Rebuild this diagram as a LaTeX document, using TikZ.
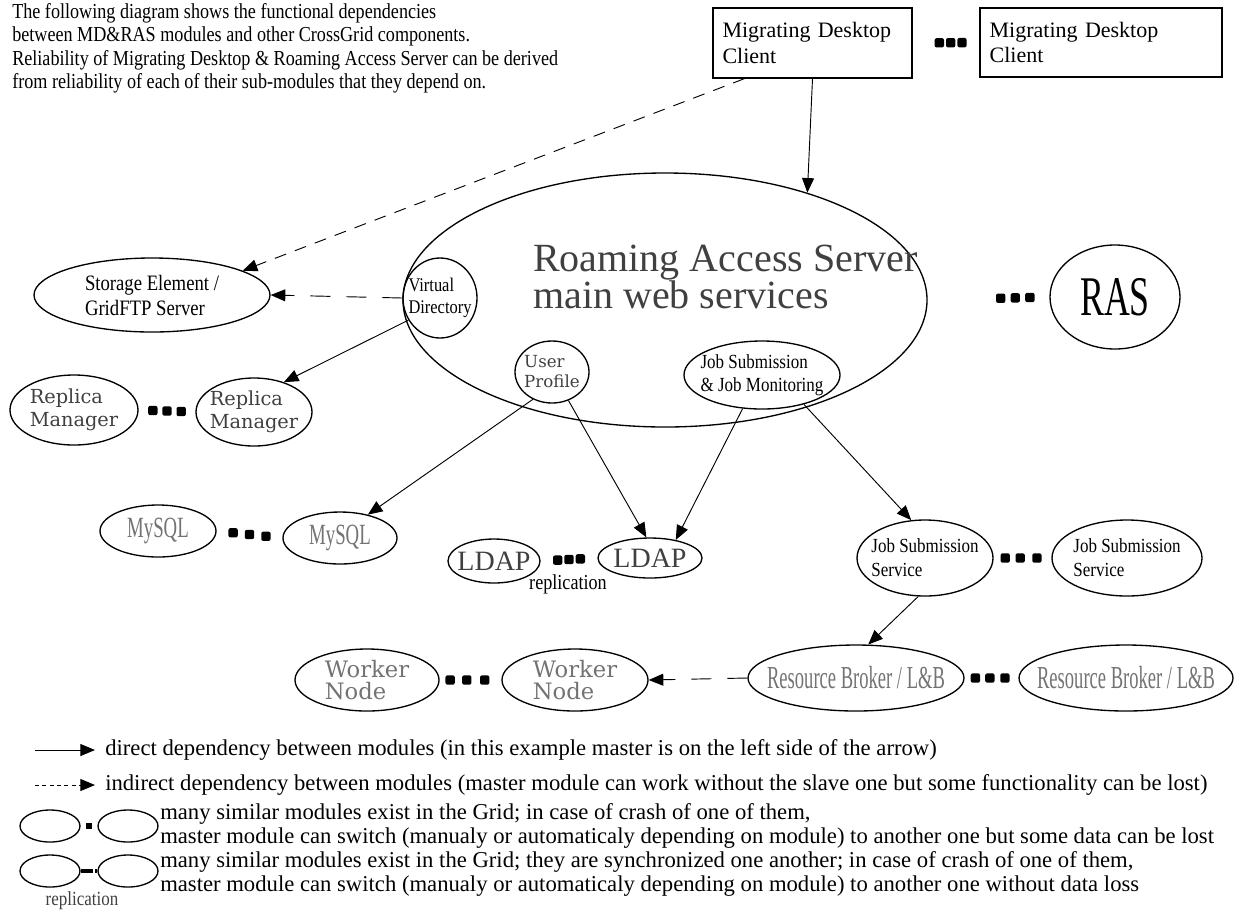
\documentclass[tikz,border=0pt]{standalone}
\usepackage{fontspec}
\setmainfont{Liberation Serif}
\newfontfamily\condfont{Liberation Serif}[FakeStretch=0.85]
\newfontfamily\narrowfont{Liberation Serif}[FakeStretch=0.64]
\newfontfamily\vnarrowfont{Liberation Serif}[FakeStretch=0.58]
\newfontfamily\wideserif{DejaVu Serif}
\usepackage{tikz}
\usetikzlibrary{arrows.meta,shapes.geometric}
\definecolor{softgrey}{gray}{0.45}
\definecolor{darkgrey}{gray}{0.25}

\begin{document}
\begin{tikzpicture}[x=0.75pt,y=0.75pt,yscale=-1,xscale=1,
  module/.style={draw, ellipse, line width=1pt, inner sep=0pt},
  lbl/.style={align=left, inner sep=0pt},
  box/.style={draw, rectangle, line width=1pt, inner xsep=7pt, align=left},
  dep/.style={line width=0.7pt, -{Triangle[length=11pt,width=9pt]}},
  indep/.style={dep, dash pattern=on 9pt off 7pt},
  dotmark/.style={fill, rectangle, rounded corners=1.5pt, inner sep=0pt, minimum size=7pt},
  legendfont/.style={font=\fontsize{17}{18}\selectfont}
]
\useasboundingbox (0,0) rectangle (1237,915);

% Text Node
\node[anchor=north west, lbl, font=\condfont\fontsize{16}{17.6}\selectfont] (intro) at (12,3) {The following diagram shows the functional dependencies\\between MD\&RAS modules and other CrossGrid components.\\Reliability of Migrating Desktop \& Roaming Access Server can be derived\\from reliability of each of their sub-modules that they depend on.};

%Shape: Rectangle
\node[box, minimum width=149.25pt, minimum height=52.5pt, text width=135pt, font=\fontsize{16.5}{19}\selectfont] (mdc1) at (812.5,43) {Migrating Desktop\\Client};
\node[box, minimum width=181.5pt, minimum height=51.75pt, text width=167pt, font=\fontsize{16.5}{19}\selectfont] (mdc2) at (1101,42.5) {Migrating Desktop\\Client};

%Shape: Ellipse
\node[module, minimum width=393pt, minimum height=190.5pt] (rasweb) at (665,300) {};
\node[anchor=west, lbl, font=\fontsize{30}{28}\selectfont, text=darkgrey] (rastitle) at (533,277) {Roaming Access Server\\main web services};
\node[module, minimum width=97.5pt, minimum height=78pt, label={[lbl,font=\narrowfont\fontsize{42}{42}\selectfont]center:RAS}] (rasalt) at (1115,297) {};
\node[module, minimum width=55.5pt, minimum height=60pt, label={[lbl,font=\condfont\fontsize{14.5}{16.5}\selectfont]center:Virtual\\Directory}] (vdir) at (440,298) {};
\node[module, minimum width=177pt, minimum height=55.5pt, label={[lbl,font=\condfont\fontsize{16.5}{18.75}\selectfont]center:Storage Element /\\GridFTP Server}] (storage) at (152,295) {};
\node[module, minimum width=96pt, minimum height=52.5pt, label={[lbl,font=\wideserif\fontsize{14.5}{17}\selectfont,text=darkgrey]center:Replica\\Manager}] (replica1) at (74,410) {};
\node[module, minimum width=87pt, minimum height=51pt, label={[lbl,font=\wideserif\fontsize{14.5}{17}\selectfont,text=darkgrey]center:Replica\\Manager}] (replica2) at (254,412) {};
\node[module, minimum width=55.5pt, minimum height=46.5pt, label={[lbl,font=\wideserif\fontsize{12.5}{15}\selectfont,text=darkgrey]center:User\\Profile}] (profile) at (552,372) {};
\node[module, minimum width=117pt, minimum height=51pt, label={[lbl,font=\condfont\fontsize{15}{17}\selectfont]center:Job Submission\\\& Job Monitoring}] (jobmon) at (762,375) {};
\node[module, minimum width=87pt, minimum height=39pt, label={[lbl,font=\narrowfont\fontsize{22}{22}\selectfont,text=softgrey]center:MySQL}] (mysql1) at (158,531) {};
\node[module, minimum width=85.5pt, minimum height=39pt, label={[lbl,font=\narrowfont\fontsize{22}{22}\selectfont,text=softgrey]center:MySQL}] (mysql2) at (340,538) {};
\node[module, minimum width=69pt, minimum height=33pt, label={[lbl,font=\fontsize{21}{21}\selectfont,text=darkgrey]center:LDAP}] (ldap1) at (494,561) {};
\node[module, minimum width=78pt, minimum height=30pt, label={[lbl,font=\fontsize{21}{21}\selectfont,text=darkgrey]center:LDAP}] (ldap2) at (650,558) {};
\node[module, minimum width=102pt, minimum height=57pt, label={[lbl,font=\condfont\fontsize{15}{18}\selectfont]center:Job Submission\\Service}] (jobsub1) at (925,558) {};
\node[module, minimum width=112.5pt, minimum height=57pt, label={[lbl,font=\condfont\fontsize{15}{18}\selectfont]center:Job Submission\\Service}] (jobsub2) at (1127,558) {};
\node[module, minimum width=162pt, minimum height=49.5pt, label={[lbl,font=\vnarrowfont\fontsize{24}{24}\selectfont,text=softgrey]center:Resource Broker / L\&B}] (broker1) at (856,678) {};
\node[module, minimum width=160.5pt, minimum height=49.5pt, label={[lbl,font=\vnarrowfont\fontsize{24}{24}\selectfont,text=softgrey]center:Resource Broker / L\&B}] (broker2) at (1126,678) {};
\node[module, minimum width=108pt, minimum height=46.5pt, label={[lbl,font=\wideserif\fontsize{17}{16.5}\selectfont,text=softgrey]center:Worker\\Node}] (worker1) at (367,680) {};
\node[module, minimum width=109.5pt, minimum height=46.5pt, label={[lbl,font=\wideserif\fontsize{17}{16.5}\selectfont,text=softgrey]center:Worker\\Node}] (worker2) at (575,680) {};
% Text Node
\node[lbl, font=\condfont\fontsize{16}{16}\selectfont] (ldaprep) at (568,584) {replication};

% dependencies
\draw[dep] (mdc1.south) -- (rasweb.37);
\draw[indep] ([xshift=24pt]mdc1.south west) -- (storage.15);
\draw[dep, dash pattern=on 15pt off 12pt] (vdir.west) -- (storage.east);
\draw[dep] (vdir.215) -- (replica2.45);
\draw[dep] (profile.235) -- (mysql2.40);
\draw[dep] (profile.-60) -- (ldap2.100);
\draw[dep] (jobmon.240) -- (ldap2.35);
\draw[dep] (jobmon.-35) -- (jobsub1.110);
\draw[dep] (jobsub1.-100) -- (broker1.70);
\draw[dep, dash pattern=on 15pt off 12pt] (broker1.west) -- (worker2.east);

% similar modules
\foreach \a/\b/\p/\q/\r in {mdc1/mdc2/0.4/0.57/0.74, rasweb/rasalt/0.6/0.72/0.84, replica1/replica2/0.25/0.5/0.75, mysql1/mysql2/0.25/0.5/0.75, ldap1/ldap2/0.3/0.5/0.7, jobsub1/jobsub2/0.2/0.46/0.75, broker1/broker2/0.2/0.47/0.75, worker1/worker2/0.17/0.44/0.73}
  \foreach \s [count=\i] in {\p,\q,\r}
    \path (\a.east) -- (\b.west) node[dotmark, pos=\s] (\a-dot\i) {};

% legend
\coordinate (dira) at (35,750);
\coordinate (dirb) at (95,750);
\draw[dep] (dira) -- (dirb);
\node[anchor=west, lbl, legendfont] (dirtext) at (105,750) {direct dependency between modules (in this example master is on the left side of the arrow)};
\coordinate (indira) at (35,785);
\coordinate (indirb) at (95,785);
\draw[dep, dash pattern=on 3pt off 2.5pt] (indira) -- (indirb);
\node[anchor=west, lbl, legendfont] (indirtext) at (105,785) {indirect dependency between modules (master module can work without the slave one but some functionality can be lost)};
\node[module, minimum width=45pt, minimum height=24pt] (lga) at (50,826) {};
\node[module, minimum width=45pt, minimum height=24pt] (lgb) at (128,826) {};
\path (lga.east) -- (lgb.west) node[midway, fill, inner sep=0pt, minimum size=5pt] (lgdot) {};
\node[anchor=west, lbl, legendfont] (simtext) at (160,826) {many similar modules exist in the Grid; in case of crash of one of them,\\master module can switch (manualy or automaticaly depending on module) to another one but some data can be lost};
\node[module, minimum width=45pt, minimum height=24pt] (lgc) at (50,871) {};
\node[module, minimum width=45pt, minimum height=24pt] (lgd) at (128,871) {};
\draw[line width=2.5pt, dash pattern=on 9pt off 2pt on 5pt off 10pt] (lgc.east) -- (lgd.west);
\node[lbl, font=\condfont\fontsize{15}{15}\selectfont, text=darkgrey] (lgrep) at (82,901) {replication};
\node[anchor=west, lbl, legendfont] (synctext) at (160,874) {many similar modules exist in the Grid; they are synchronized one another; in case of crash of one of them,\\master module can switch (manualy or automaticaly depending on module) to another one without data loss};

\end{tikzpicture}
\end{document}
